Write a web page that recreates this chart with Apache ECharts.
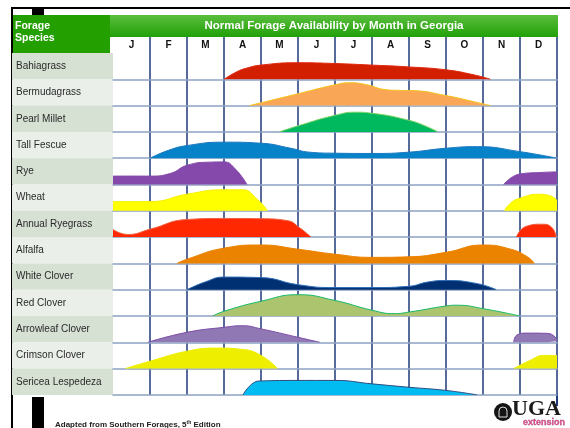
<!DOCTYPE html>
<html>
<head>
<meta charset="utf-8">
<script src="https://cdn.jsdelivr.net/npm/echarts@6/dist/echarts.min.js"></script>
<style>
html, body { margin: 0; padding: 0; background: #fff; }
#chart { width: 570px; height: 428px; }
</style>
</head>
<body>
<div id="chart"></div>
<script>
// month header and species rows
const months = ['J', 'F', 'M', 'A', 'M', 'J', 'J', 'A', 'S', 'O', 'N', 'D']
const species = ['Bahiagrass', 'Bermudagrass', 'Pearl Millet', 'Tall Fescue', 'Rye', 'Wheat',
    'Annual Ryegrass', 'Alfalfa', 'White Clover', 'Red Clover', 'Arrowleaf Clover',
    'Crimson Clover', 'Sericea Lespedeza']

// availability shapes: [month (0 = start of Jan), relative level in the row]
const bahiagrass = [[[3, 0], [3.35, 0.29], [3.6, 0.42], [4, 0.54], [5, 0.63], [6, 0.6], [7, 0.54], [8, 0.47], [9, 0.36], [9.75, 0.17], [10.2, 0]]]
const bermudagrass = [[[3.69, 0], [5, 0.45], [6, 0.79], [6.4, 0.87], [6.9, 0.78], [7.3, 0.62], [7.7, 0.58], [8.1, 0.57], [9, 0.38], [9.75, 0.15], [10.2, 0]]]
const pearlMillet = [[[4.5, 0], [5, 0.23], [6, 0.63], [6.55, 0.75], [7, 0.71], [8, 0.44], [8.5, 0.19], [8.78, 0]]]
const tallFescue = [[[1, 0], [1.5, 0.3], [2, 0.48], [3, 0.61], [4, 0.57], [4.8, 0.38], [5.3, 0.23], [6, 0.19], [7, 0.18], [8, 0.23], [9, 0.38], [9.85, 0.44], [11, 0.25], [12, 0]]]
const rye = [
    [[0, 0.32], [1, 0.32], [1.55, 0.42], [2, 0.73], [2.6, 0.85], [3, 0.86], [3.3, 0.6], [3.62, 0]],
    [[10.56, 0], [11, 0.4], [11.6, 0.46], [12, 0.48]]
]
const wheat = [
    [[0, 0.35], [1, 0.35], [2, 0.63], [3, 0.8], [3.5, 0.8], [3.9, 0.44], [4.18, 0]],
    [[10.58, 0], [10.75, 0.3], [11, 0.48], [11.5, 0.63], [11.8, 0.58], [12, 0.4]]
]
const annualRyegrass = [
    [[0, 0.29], [0.4, 0.1], [1, 0.3], [2, 0.67], [3, 0.71], [4, 0.7], [4.7, 0.63], [5.05, 0.35], [5.35, 0]],
    [[10.9, 0], [11.15, 0.4], [11.6, 0.49], [11.85, 0.38], [11.98, 0]]
]
const alfalfa = [[[1.73, 0], [2, 0.16], [3, 0.58], [4, 0.7], [5, 0.54], [6, 0.35], [7, 0.23], [8, 0.25], [9, 0.42], [10, 0.7], [10.75, 0.54], [11.2, 0.25], [11.39, 0]]]
const whiteClover = [[[2, 0], [2.5, 0.3], [3, 0.48], [4, 0.46], [5, 0.19], [6, 0.08], [7, 0.08], [8, 0.13], [8.5, 0.29], [9, 0.35], [9.85, 0.23], [10.36, 0]]]
const redClover = [[[2.7, 0], [3, 0.18], [4, 0.56], [5, 0.81], [6, 0.59], [7, 0.22], [7.6, 0.09], [8, 0.15], [9, 0.38], [9.3, 0.41], [10, 0.28], [11, 0]]]
const arrowleafClover = [
    [[0.94, 0], [2, 0.38], [3, 0.57], [3.5, 0.63], [4, 0.51], [5, 0.19], [5.59, 0]],
    [[10.83, 0], [10.92, 0.28], [11.2, 0.35], [11.73, 0.34], [11.95, 0.2], [12, 0.04]]
]
const crimsonClover = [
    [[0.33, 0], [1, 0.28], [2, 0.66], [2.8, 0.78], [3.5, 0.73], [4, 0.5], [4.45, 0]],
    [[10.83, 0], [11.27, 0.31], [11.64, 0.5], [12, 0.5]]
]
const sericeaLespedeza = [[[3.51, 0], [3.8, 0.46], [4, 0.53], [5, 0.55], [6, 0.55], [7, 0.42], [8, 0.29], [9, 0.17], [9.84, 0]]]

const shapes = [bahiagrass, bermudagrass, pearlMillet, tallFescue, rye, wheat, annualRyegrass,
    alfalfa, whiteClover, redClover, arrowleafClover, crimsonClover, sericeaLespedeza]

// fill / edge colours per row
const fills = ['#D21F00', '#F9A756', '#00B85E', '#0582C8', '#8449AA', '#FFFF00', '#FF2800',
    '#EC8300', '#002F72', '#ABC46D', '#9078B4', '#EEEE00', '#00BCF0']
const edges = ['#E02A10', '#F7C21A', '#7ED36A', '#1A78C0', '#8449AA', '#F4F000', '#F06040',
    '#EC8300', '#2D6DB5', '#18B96A', '#7E4EA8', '#EEEE00', '#2E4C80']

const NAVY = '#1E3A78'
const ROW_TOP = 53
const ROW_H = 26.3
const GRID_L = 113
const GRID_W = 444

let grids = [
    { left: GRID_L, top: 37, width: GRID_W, height: 16 },
    { left: 12, top: ROW_TOP, width: GRID_L - 12, height: ROW_H * species.length }
]
let xAxes = [
    {
        gridIndex: 0,
        type: 'category',
        data: months,
        position: 'top',
        axisLine: { show: false },
        axisTick: { show: false },
        axisLabel: { inside: true, margin: 3, fontSize: 10, fontWeight: 'bold', color: '#111', fontFamily: 'Liberation Sans' },
        splitLine: { show: true, showMinLine: false, lineStyle: { color: NAVY, width: 1.5 } }
    },
    { gridIndex: 1, type: 'value', show: false }
]
let yAxes = [
    { gridIndex: 0, type: 'value', show: false },
    {
        gridIndex: 1,
        type: 'category',
        inverse: true,
        data: species,
        axisLine: { show: false },
        axisTick: { show: false },
        splitLine: { show: false },
        axisLabel: { inside: true, margin: 4, fontSize: 10, color: '#2a2a2a', fontFamily: 'Liberation Sans', padding: [0, 0, 5, 0] },
        splitArea: { show: true, areaStyle: { color: ['#D6E0D3', '#EAF0E9'] } }
    }
]
let series = []

species.forEach((name, i) => {
    let idx = i + 2
    grids.push({ left: GRID_L, top: ROW_TOP + i * ROW_H, width: GRID_W, height: ROW_H })
    xAxes.push({
        gridIndex: idx,
        type: 'value',
        min: 0,
        max: 12,
        interval: 1,
        axisLabel: { show: false },
        axisTick: { show: false },
        axisLine: { show: true, lineStyle: { color: '#8DA2C2', width: 1.5 } },
        splitLine: { show: true, showMinLine: false, lineStyle: { color: NAVY, width: 1.5 } }
    })
    yAxes.push({ gridIndex: idx, type: 'value', min: 0, max: 1, show: false })
    shapes[i].forEach(piece => {
        series.push({
            name: name,
            type: 'line',
            xAxisIndex: idx,
            yAxisIndex: idx,
            data: piece,
            smooth: 0.5,
            symbol: 'none',
            silent: true,
            lineStyle: { color: edges[i], width: 1 },
            areaStyle: { color: fills[i], opacity: 1 }
        })
    })
})

let chart = echarts.init(document.getElementById('chart'))
chart.setOption({
    animation: false,
    title: {
        text: '{a|Adapted from Southern Forages, 5}{s|th}{a| Edition}',
        left: 50,
        top: 415,
        textStyle: {
            rich: {
                a: { fontSize: 8, color: '#222', fontFamily: 'Liberation Sans' },
                s: { fontSize: 5, color: '#222', fontFamily: 'Liberation Sans', verticalAlign: 'top', padding: [0, 0, 4, 0] }
            }
        }
    },
    grid: grids,
    xAxis: xAxes,
    yAxis: yAxes,
    series: series,
    graphic: [
        { type: 'rect', shape: { x: 11, y: 7, width: 559, height: 2 }, style: { fill: '#000' } },
        { type: 'rect', shape: { x: 11, y: 7, width: 2, height: 421 }, style: { fill: '#000' } },
        { type: 'rect', shape: { x: 32, y: 9, width: 12, height: 6 }, style: { fill: '#000' } },
        { type: 'rect', shape: { x: 32, y: 397, width: 12, height: 31 }, style: { fill: '#000' } },
        { type: 'rect', shape: { x: 556, y: 394, width: 2, height: 12 }, style: { fill: NAVY } },
        { type: 'rect', shape: { x: 13, y: 15, width: 97, height: 38 }, style: { fill: '#23A000' } },
        {
            type: 'rect',
            shape: { x: 110, y: 15, width: 448, height: 22 },
            style: {
                fill: new echarts.graphic.LinearGradient(0, 0, 0, 1, [
                    { offset: 0, color: '#5BBE3E' },
                    { offset: 1, color: '#20A008' }
                ])
            }
        },
        {
            type: 'text',
            style: {
                text: 'Normal Forage Availability by Month in Georgia',
                x: 334, y: 26,
                textAlign: 'center', textVerticalAlign: 'middle',
                fill: '#fff', fontSize: 11.5, fontWeight: 'bold', fontFamily: 'Liberation Sans'
            }
        },
        {
            type: 'text',
            style: {
                text: 'Forage\nSpecies',
                x: 15, y: 20,
                lineHeight: 12,
                fill: '#fff', fontSize: 10.5, fontWeight: 'bold', fontFamily: 'Liberation Sans'
            }
        },
        // UGA extension mark
        { type: 'circle', shape: { cx: 503, cy: 412, r: 9 }, style: { fill: '#151515' } },
        { type: 'rect', shape: { x: 499, y: 407, width: 8, height: 10, r: [4, 4, 0, 0] }, style: { fill: 'none', stroke: '#ddd', lineWidth: 1 } },
        {
            type: 'text',
            style: {
                text: 'UGA', x: 512, y: 420,
                textVerticalAlign: 'bottom',
                fill: '#1a1a1a', fontSize: 22, fontWeight: 'bold', fontFamily: 'Liberation Serif'
            }
        },
        {
            type: 'text',
            style: {
                text: 'extension', x: 523, y: 418,
                fill: '#D9508F', fontSize: 9, fontWeight: 'bold', fontFamily: 'Liberation Sans',
                stroke: '#7a1f4a', lineWidth: 0.3
            }
        }
    ]
})
</script>
</body>
</html>
